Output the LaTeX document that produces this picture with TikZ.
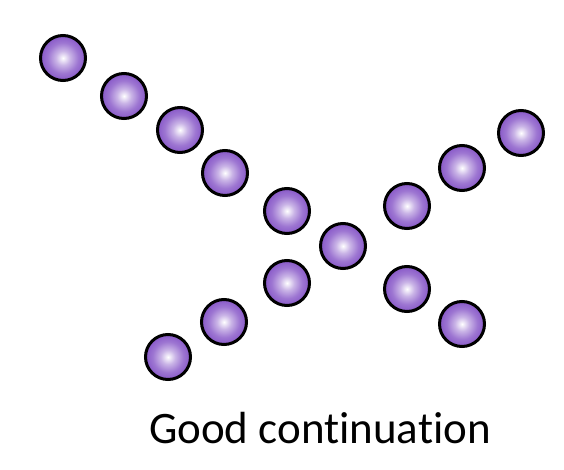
\documentclass[tikz,border=0pt]{standalone}
\usepackage{fontspec}
\setmainfont{Carlito}[Ligatures=NoCommon]
\definecolor{orbpurple}{RGB}{136,88,200}
\pgfdeclareradialshading{orbshade}{\pgfpoint{0bp}{0bp}}{%
  color(0bp)=(white);
  color(8bp)=(orbpurple!45!white);
  color(17bp)=(orbpurple!82!white);
  color(25bp)=(orbpurple);
  color(50bp)=(orbpurple)}
\tikzset{
  orb/.style={circle, draw=black, line width=3pt, minimum size=45pt, inner sep=0pt,
    shading=orbshade},
  caption/.style={font=\fontsize{45}{50}\selectfont, anchor=base, inner sep=0pt}
}
\begin{document}
\begin{tikzpicture}[x=1pt,y=-1pt]
\useasboundingbox (0,0) rectangle (564,470);
\node[orb] (c1) at (63,58) {};
\node[orb] (c2) at (124,96) {};
\node[orb] (c3) at (180,130) {};
\node[orb] (c4) at (225,173) {};
\node[orb] (c5) at (287,211) {};
\node[orb] (c6) at (343,246) {};
\node[orb] (c7) at (407,206) {};
\node[orb] (c8) at (462,168) {};
\node[orb] (c9) at (521,133) {};
\node[orb] (c10) at (287,283) {};
\node[orb] (c11) at (224,322) {};
\node[orb] (c12) at (168,357) {};
\node[orb] (c13) at (407,289) {};
\node[orb] (c14) at (462,324) {};
\node[caption] (label) at (320,443) {Good continuation};
\end{tikzpicture}
\end{document}
